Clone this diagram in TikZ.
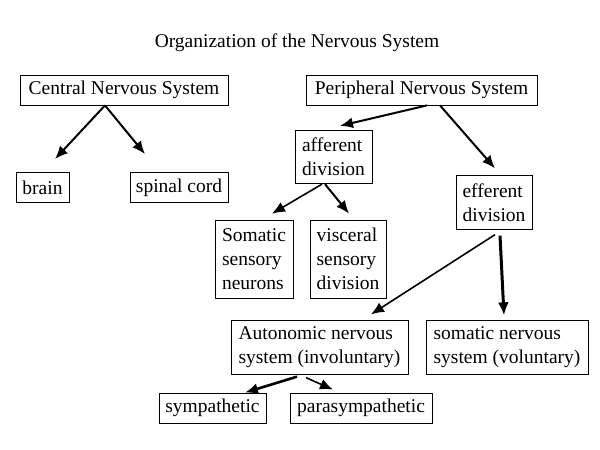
\documentclass[tikz,border=0pt]{standalone}
\usepackage{fontspec}
\setmainfont{Liberation Serif}
\usetikzlibrary{arrows.meta}
\tikzstyle{box}=[
  draw=black,
  line width=0.8pt,
  align=left,
  inner sep=0pt,
  font=\fontsize{19.5}{24}\selectfont
]
\tikzstyle{link}=[
  line width=2pt,
  -{Latex[length=13pt,width=11pt]}
]

\begin{document}
\begin{tikzpicture}[x=1pt,y=-1pt]
          \useasboundingbox (0,0) rectangle (600,450);

          \def \OneH {30}
          \def \TwoH {53.5}
          \def \ThreeH {78}

          \node[font=\fontsize{19.5}{24}\selectfont] (title) at (297,43) {Organization of the Nervous System};

          % central side
          \node[box, minimum width=208, minimum height=\OneH] (cns) at (124,90) {Central Nervous System};
          \node[box, minimum width=53, minimum height=\OneH] (brain) at (42.5,187.5) {brain};
          \node[box, minimum width=98, minimum height=\OneH] (spinal) at (179,187.5) {spinal cord};

          % peripheral side
          \node[box, minimum width=231, minimum height=\OneH] (pns) at (421.5,90) {Peripheral Nervous System};
          \node[box, minimum width=77, minimum height=\TwoH] (aff) at (333.5,157) {afferent\\division};
          \node[box, minimum width=76, minimum height=\TwoH] (eff) at (494,202.5) {efferent\\division};
          \node[box, minimum width=78, minimum height=\ThreeH] (somsens) at (254,259) {Somatic\\sensory\\neurons};
          \node[box, minimum width=76, minimum height=\ThreeH] (visc) at (348,259) {visceral\\sensory\\division};
          \node[box, minimum width=177, minimum height=\TwoH] (ans) at (319.5,347.5) {Autonomic nervous\\system (involuntary)};
          \node[box, minimum width=162, minimum height=\TwoH] (sns) at (507,347.5) {somatic nervous\\system (voluntary)};
          \node[box, minimum width=107, minimum height=\OneH] (symp) at (212.5,408) {sympathetic};
          \node[box, minimum width=142, minimum height=\OneH] (para) at (361,408) {parasympathetic};

          \draw[link] ([xshift=-19pt]cns.south) -- ([xshift=12.5pt,yshift=13pt]brain.north);
          \draw[link] ([xshift=-19pt]cns.south) -- ([xshift=-34pt,yshift=18pt]spinal.north);
          \draw[link] ([xshift=5.5pt]pns.south) -- ([xshift=6.5pt,yshift=4pt]aff.north);
          \draw[link] ([xshift=18.5pt]pns.south) -- ([xshift=1pt,yshift=7pt]eff.north);
          \draw[link, line width=1.6pt] ([xshift=-11.5pt]aff.south) -- ([xshift=18pt,yshift=6pt]somsens.north);
          \draw[link] ([xshift=-8.5pt]aff.south) -- ([xshift=1pt,yshift=6pt]visc.north);
          \draw[link, line width=1.6pt] ([xshift=1pt,yshift=-5pt]eff.south) -- ([xshift=51.5pt,yshift=6pt]ans.north);
          \draw[link, line width=3pt] ([xshift=6pt,yshift=-6pt]eff.south) -- ([xshift=-3pt,yshift=5pt]sns.north);
          \draw[link, line width=2.6pt] ([xshift=-22.5pt,yshift=-2pt]ans.south) -- ([xshift=32.5pt]symp.north);
          \draw[link, line width=1.6pt] ([xshift=-13.5pt,yshift=-3pt]ans.south) -- ([xshift=-28pt,yshift=3pt]para.north);
        \end{tikzpicture}
\end{document}
